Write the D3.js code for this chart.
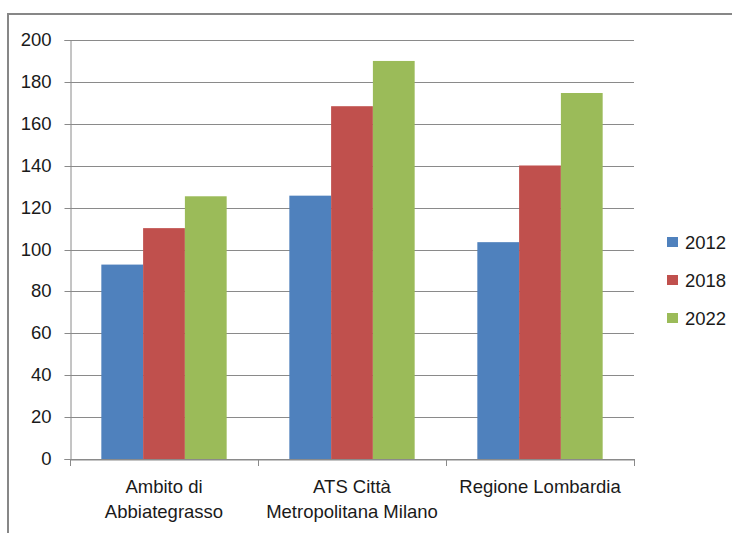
<!DOCTYPE html>
<html>
<head>
<meta charset="utf-8">
<script src="https://cdn.jsdelivr.net/npm/d3@7"></script>
<style>
  html, body { margin: 0; padding: 0; background: #fff; }
  svg { display: block; }
  text { font-family: "Liberation Sans", Arial, sans-serif; fill: #1a1a1a; }
</style>
</head>
<body>
<svg id="chart" width="732" height="533"></svg>
<script>
const categories = [["Ambito di", "Abbiategrasso"], ["ATS Città", "Metropolitana Milano"], ["Regione Lombardia"]];
const seriesNames = ["2012", "2018", "2022"];
const values2012 = [92.8, 125.7, 103.5];
const values2018 = [110.2, 168.4, 140.1];
const values2022 = [125.4, 190.0, 174.7];
const yTicks = [0, 20, 40, 60, 80, 100, 120, 140, 160, 180, 200];
const colors = ["#4f81bd", "#c0504d", "#9bbb59"];

(function () {
const seriesValues = [values2012, values2018, values2022];
const svg = d3.select("#chart");
const fontSize = 18.5;

// outer frame
svg.append("path").attr("d", "M8,533 L8,14 L732,14")
  .attr("fill", "none").attr("stroke", "#878787").attr("stroke-width", 2);

const pLeft = 70, pRight = 634, pTop = 40, pBottom = 459;
const catKeys = categories.map((c, i) => i);
const x0 = d3.scaleBand().domain(catKeys).range([pLeft, pRight]).paddingInner(0).paddingOuter(0);
const y = d3.scaleLinear().domain([0, 200]).range([pBottom, pTop]);
const groupW = x0.bandwidth();
const halfGap = groupW * 1.5 / 4.5 / 2;
const x1 = d3.scaleBand().domain(seriesNames).range([halfGap, groupW - halfGap]).padding(0);

// gridlines
svg.append("g").selectAll("line").data(yTicks).join("line")
  .attr("x1", pLeft).attr("x2", pRight)
  .attr("y1", d => Math.round(y(d)) + 0.5).attr("y2", d => Math.round(y(d)) + 0.5)
  .attr("stroke", "#8a8a8a").attr("stroke-width", 1);

// y axis
const yAxis = d3.axisLeft(y).tickValues(yTicks).tickSize(6).tickPadding(12);
const gy = svg.append("g").attr("transform", `translate(${pLeft + 0.5},0)`).call(yAxis);
gy.select(".domain").attr("stroke", "#8a8a8a");
gy.selectAll(".tick line").attr("stroke", "#8a8a8a");
gy.selectAll(".tick").attr("transform", d => `translate(0,${Math.round(y(d)) + 0.5})`);
gy.selectAll("text").attr("font-size", fontSize).attr("font-family", "Liberation Sans, Arial, sans-serif").attr("fill", "#1a1a1a").attr("x", -19);

// bars
const groups = svg.append("g").selectAll("g").data(catKeys).join("g")
  .attr("transform", d => `translate(${x0(d)},0)`);
groups.selectAll("rect").data(ci => seriesNames.map((s, si) => ({ s, si, v: seriesValues[si][ci] })))
  .join("rect")
  .attr("x", d => x1(d.s))
  .attr("width", x1.bandwidth())
  .attr("y", d => y(d.v))
  .attr("height", d => y(0) - y(d.v))
  .attr("fill", d => colors[d.si]);

// x axis
const xAxis = d3.axisBottom(x0).tickSize(0).tickFormat("");
const gx = svg.append("g").attr("transform", `translate(0,${Math.round(pBottom) + 0.5})`).call(xAxis);
gx.select(".domain").attr("stroke", "#8a8a8a");
const boundaries = catKeys.map(k => x0(k)).concat([pRight]);
svg.append("g").selectAll("line").data(boundaries).join("line")
  .attr("x1", d => Math.round(d) + 0.5).attr("x2", d => Math.round(d) + 0.5)
  .attr("y1", pBottom).attr("y2", pBottom + 7)
  .attr("stroke", "#8a8a8a");

// category labels
const lab = svg.append("g").selectAll("text").data(categories).join("text")
  .attr("text-anchor", "middle")
  .attr("font-size", fontSize)
  .attr("transform", (d, i) => `translate(${x0(i) + groupW / 2},0)`);
lab.selectAll("tspan").data(d => d).join("tspan")
  .attr("x", 0)
  .attr("y", (d, i) => 493 + i * 25)
  .text(d => d);

// legend
const leg = svg.append("g").selectAll("g").data(seriesNames).join("g")
  .attr("transform", (d, i) => `translate(667,${237 + i * 38})`);
leg.append("rect").attr("width", 11).attr("height", 10).attr("fill", (d, i) => colors[i]);
leg.append("text").attr("x", 18).attr("y", 11.5).attr("font-size", fontSize).text(d => d);
})();
</script>
</body>
</html>
